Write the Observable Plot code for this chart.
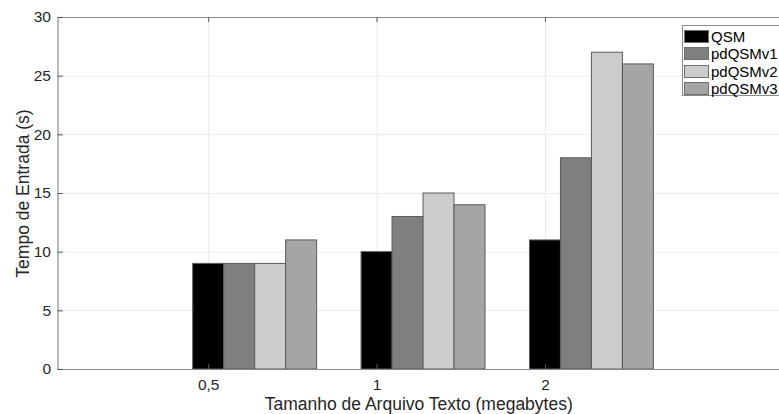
<!DOCTYPE html>
<html>
<head>
<meta charset="utf-8">
<script src="https://cdn.jsdelivr.net/npm/d3@7"></script>
<script src="https://cdn.jsdelivr.net/npm/@observablehq/plot@0.6"></script>
<style>
  body { margin: 0; background: #fff; font-family: "Liberation Sans", Arial, Helvetica, sans-serif; }
  #chart { position: relative; width: 779px; height: 414px; overflow: hidden; }
  .legend { position: absolute; left: 682px; top: 25px; width: 100px; height: 71px;
            border: 1px solid #8c8c8c; background: #fff; box-sizing: border-box; padding: 2px 0 0 1px; }
  .legend .row { display: flex; align-items: center; height: 17.3px; }
  .legend .sw { width: 25px; height: 13px; border: 1px solid #707070; box-sizing: border-box; margin-right: 2px; }
  .legend .lb { font-size: 15px; color: #000; line-height: 1; }
</style>
</head>
<body>
<div id="chart"></div>
<script>
// File sizes (megabytes) shown on the x axis, one group of bars each
const sizes = ["0,5", "1", "2"];
// Series names and their fill colours
const series = ["QSM", "pdQSMv1", "pdQSMv2", "pdQSMv3"];
const fills = ["#000000", "#7f7f7f", "#cccccc", "#a5a5a5"];
// Input time (s) per series, in the order of `sizes`
const qsm = [9, 10, 11];
const pdQSMv1 = [9, 13, 18];
const pdQSMv2 = [9, 15, 27];
const pdQSMv3 = [11, 14, 26];
const yTicks = [0, 5, 10, 15, 20, 25, 30];

const values = [qsm, pdQSMv1, pdQSMv2, pdQSMv3];
const groups = sizes.map((_, i) => i + 1);   // group positions on a linear x scale
const barW = 0.184;                          // width of one bar in x units

// One record per bar: the first bar of each group sits on the group's tick
const bars = [];
series.forEach((name, s) => {
  values[s].forEach((v, g) => {
    const x1 = groups[g] - barW / 2 + s * barW;
    bars.push({ name, s, x1, x2: x1 + barW, value: v });
  });
});

const xDomain = [0.105, 4.39];
const yDomain = [0, 30];
const tickLenY = 0.43;   // inward tick length, y units
const tickLenX = 0.032;  // inward tick length, x units
const ink = "#262626";
const axisColor = "#8a8a8a";
const gridColor = "#ebebeb";

const plot = Plot.plot({
  width: 779,
  height: 414,
  marginLeft: 57.5,
  marginRight: 0,
  marginTop: 17,
  marginBottom: 45,
  style: { fontFamily: "Liberation Sans, Arial, sans-serif", color: ink, background: "#fff" },
  x: { type: "linear", domain: xDomain, axis: null },
  y: { domain: yDomain, axis: null },
  color: { domain: series, range: fills },
  marks: [
    // grid
    Plot.ruleY(yTicks.filter(d => d > 0 && d < 30), { stroke: gridColor, strokeWidth: 1 }),
    Plot.ruleX(groups, { stroke: gridColor, strokeWidth: 1 }),
    // bars
    Plot.rectY(bars, { x1: "x1", x2: "x2", y1: 0, y2: "value", fill: "name", stroke: "#5a5a5a", strokeWidth: 1 }),
    // axes box (left, top, bottom)
    Plot.ruleY([0, 30], { stroke: axisColor, strokeWidth: 1.2 }),
    Plot.ruleX([xDomain[0]], { stroke: axisColor, strokeWidth: 1.2 }),
    // inward tick marks
    Plot.ruleX(groups, { y1: 0, y2: tickLenY, stroke: "#555" }),
    Plot.ruleX(groups, { y1: 30 - tickLenY, y2: 30, stroke: "#555" }),
    Plot.ruleY(yTicks, { x1: xDomain[0], x2: xDomain[0] + tickLenX, stroke: "#555" }),
    // tick labels
    Plot.text(yTicks, { x: xDomain[0], y: d => d, text: d => String(d), textAnchor: "end", dx: -7, fontSize: 15.5, fill: ink }),
    Plot.text(groups, { x: d => d, y: 0, text: d => sizes[d - 1], dy: 16, fontSize: 15.5, fill: ink }),
    // axis titles
    Plot.text(["Tamanho de Arquivo Texto (megabytes)"], { frameAnchor: "bottom", lineAnchor: "middle", textAnchor: "middle", dy: 35, fontSize: 17.5, fill: ink }),
    Plot.text(["Tempo de Entrada (s)"], { frameAnchor: "left", lineAnchor: "middle", textAnchor: "middle", rotate: -90, dx: -35, fontSize: 17.5, fill: ink })
  ]
});

const chart = document.getElementById("chart");
chart.appendChild(plot);

// Legend box in the upper right corner of the axes
const legend = document.createElement("div");
legend.className = "legend";
series.forEach((name, i) => {
  const row = document.createElement("div");
  row.className = "row";
  const sw = document.createElement("div");
  sw.className = "sw";
  sw.style.background = fills[i];
  const lb = document.createElement("span");
  lb.className = "lb";
  lb.textContent = name;
  row.appendChild(sw);
  row.appendChild(lb);
  legend.appendChild(row);
});
chart.appendChild(legend);
</script>
</body>
</html>
